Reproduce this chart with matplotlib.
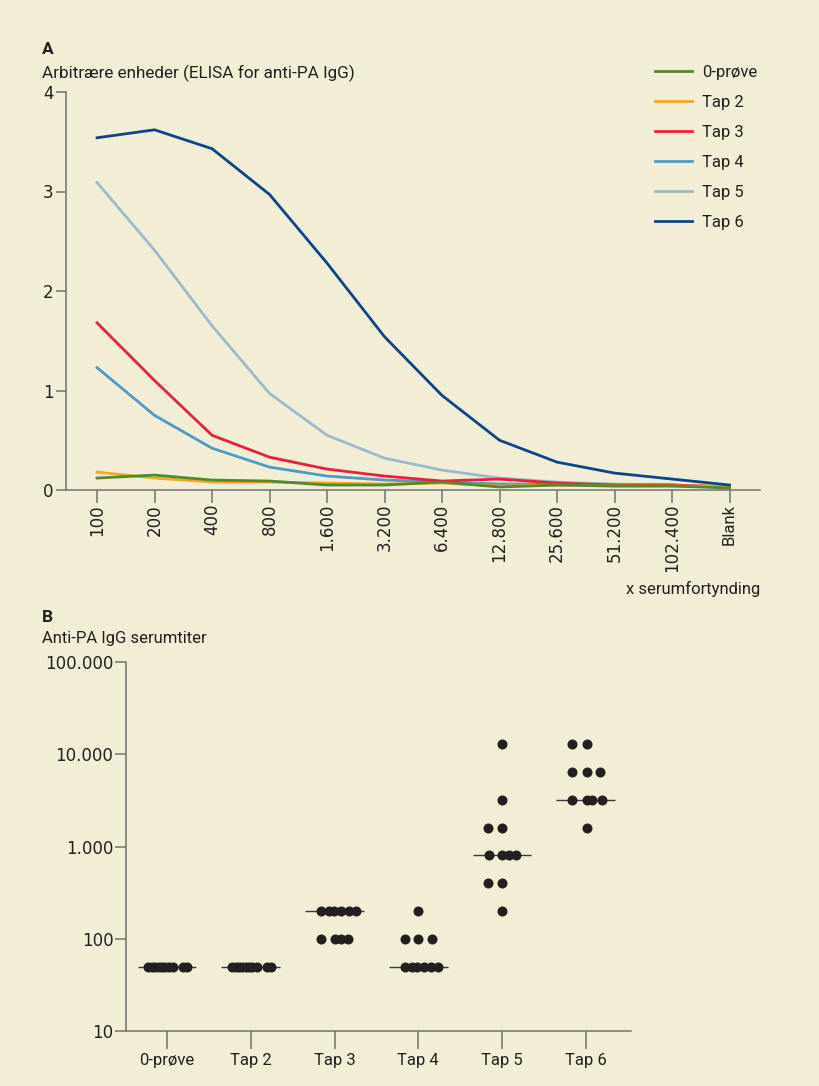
import numpy as np
import matplotlib.pyplot as plt

plt.rcParams['font.family'] = ['Roboto', 'DejaVu Sans']

# panel A: ELISA, arbitraere enheder pr. fortynding
fortyndinger = ["100", "200", "400", "800", "1.600", "3.200", "6.400",
                "12.800", "25.600", "51.200", "102.400", "Blank"]
serier = ["0-prøve", "Tap 2", "Tap 3", "Tap 4", "Tap 5", "Tap 6"]
proeve0 = [0.12, 0.15, 0.10, 0.09, 0.05, 0.05, 0.08, 0.03, 0.05, 0.04, 0.04, 0.02]
tap2 = [0.18, 0.12, 0.08, 0.08, 0.07, 0.06, 0.07, 0.04, 0.05, 0.04, 0.04, 0.04]
tap3 = [1.68, 1.10, 0.55, 0.33, 0.21, 0.14, 0.09, 0.11, 0.07, 0.05, 0.05, 0.03]
tap4 = [1.23, 0.75, 0.42, 0.23, 0.14, 0.10, 0.08, 0.06, 0.06, 0.05, 0.05, 0.03]
tap5 = [3.09, 2.41, 1.65, 0.97, 0.55, 0.32, 0.20, 0.12, 0.08, 0.06, 0.05, 0.03]
tap6 = [3.54, 3.62, 3.43, 2.97, 2.28, 1.54, 0.95, 0.50, 0.28, 0.17, 0.11, 0.05]

# panel B: serumtiter pr. dyr
titer_0 = [50, 50, 50, 50, 50, 50, 50, 50, 50, 50]
titer_tap2 = [50, 50, 50, 50, 50, 50, 50, 50, 50, 50]
titer_tap3 = [200, 200, 200, 200, 200, 200, 100, 100, 100, 100]
titer_tap4 = [200, 100, 100, 100, 50, 50, 50, 50, 50, 50]
titer_tap5 = [12800, 3200, 1600, 1600, 800, 800, 800, 800, 400, 400, 200]
titer_tap6 = [12800, 12800, 6400, 6400, 6400, 3200, 3200, 3200, 3200, 1600]
medianer = [50, 50, 200, 50, 800, 3200]

# sideforskydning af punkterne (i kategori-enheder)
spred_0 = [-0.23, -0.18, -0.14, -0.10, -0.06, -0.02, 0.02, 0.07, 0.19, 0.24]
spred_tap2 = [-0.23, -0.18, -0.14, -0.10, -0.06, -0.02, 0.02, 0.07, 0.19, 0.24]
spred_tap3 = [-0.16, -0.07, -0.01, 0.08, 0.17, 0.26, -0.16, 0.01, 0.08, 0.16]
spred_tap4 = [0.0, -0.16, 0.0, 0.16, -0.16, -0.08, -0.01, 0.07, 0.15, 0.24]
spred_tap5 = [0.0, 0.0, -0.17, 0.0, -0.16, 0.0, 0.08, 0.17, -0.17, 0.0, 0.0]
spred_tap6 = [-0.16, 0.01, -0.16, 0.01, 0.17, -0.16, 0.01, 0.08, 0.19, 0.01]

bg = '#F2EED6'
txt = '#231F20'
spine = '#707070'
farver = ['#4F8A2B', '#F5A623', '#E8203A', '#4E9AC7', '#9DBACD', '#0B4588']
tal_font = ['DejaVu Sans']

fig = plt.figure(figsize=(8.2, 10.86), dpi=100, facecolor=bg)
W, H = 820, 1086


def ax_px(l, t, r, b):
    return fig.add_axes([l / W, 1 - b / H, (r - l) / W, (b - t) / H])


def style(ax):
    ax.set_facecolor(bg)
    for s in ['top', 'right']:
        ax.spines[s].set_visible(False)
    for s in ['left', 'bottom']:
        ax.spines[s].set_color(spine)
        ax.spines[s].set_linewidth(1.1)
    ax.tick_params(colors=spine, labelcolor=txt, labelsize=12, width=1.1)


# ---- A ----
axA = ax_px(66, 92, 760, 490)
style(axA)
x = np.arange(len(fortyndinger))
data_a = [proeve0, tap2, tap3, tap4, tap5, tap6]
zo = [8, 7, 6, 5, 4, 9]
for navn, y, c, z in zip(serier, data_a, farver, zo):
    axA.plot(x, y, color=c, lw=2.0, label=navn, zorder=z, solid_joinstyle='miter')
axA.set_xlim(-0.54, 11.53)
axA.set_ylim(0, 4)
axA.set_yticks([0, 1, 2, 3, 4])
axA.set_xticks(x)
axA.set_xticklabels(fortyndinger, rotation=90)
axA.tick_params(axis='x', length=9, pad=1)
axA.tick_params(axis='y', length=7, pad=2)
for lab in axA.get_xticklabels() + axA.get_yticklabels():
    lab.set_family(tal_font)
axA.get_xticklabels()[-1].set_family(['Roboto'])
axA.legend(loc='upper left', bbox_to_anchor=(655 / W, 1 - 65 / H),
           bbox_transform=fig.transFigure, frameon=False, fontsize=12,
           handlelength=2.2, handletextpad=0.6, labelspacing=0.9,
           borderpad=0, borderaxespad=0, labelcolor=txt)

fig.text(42 / W, 1 - 49 / H, "A", fontsize=12.5, fontweight='bold', color=txt, va='center')
fig.text(42 / W, 1 - 73 / H, "Arbitrære enheder (ELISA for anti-PA IgG)",
         fontsize=12.3, color=txt, va='center')
fig.text(760 / W, 1 - 589 / H, "x serumfortynding", fontsize=12, color=txt,
         va='center', ha='right')

# ---- B ----
axB = ax_px(126, 662, 631, 1031)
style(axB)
titer = [titer_0, titer_tap2, titer_tap3, titer_tap4, titer_tap5, titer_tap6]
spred = [spred_0, spred_tap2, spred_tap3, spred_tap4, spred_tap5, spred_tap6]
for i, (vals, dx) in enumerate(zip(titer, spred)):
    axB.scatter(i + np.array(dx), vals, s=52, color=txt, zorder=3, linewidths=0)
    axB.hlines(medianer[i], i - 0.35, i + 0.35, color='#3a3a3a', lw=1.0, zorder=2)
axB.set_yscale('log')
axB.set_ylim(10, 100000)
axB.set_xlim(-0.49, 5.54)
axB.set_yticks([10, 100, 1000, 10000, 100000])
axB.set_yticklabels(["10", "100", "1.000", "10.000", "100.000"])
axB.minorticks_off()
axB.set_xticks(range(len(serier)))
axB.set_xticklabels(serier)
axB.tick_params(axis='x', length=13, pad=3)
axB.tick_params(axis='y', length=8, pad=1)
for lab in axB.get_yticklabels():
    lab.set_family(tal_font)

fig.text(42 / W, 1 - 617 / H, "B", fontsize=12.5, fontweight='bold', color=txt, va='center')
fig.text(42 / W, 1 - 639 / H, "Anti-PA IgG serumtiter", fontsize=12, color=txt, va='center')

fig.savefig('out.png', dpi=100, facecolor=bg)
